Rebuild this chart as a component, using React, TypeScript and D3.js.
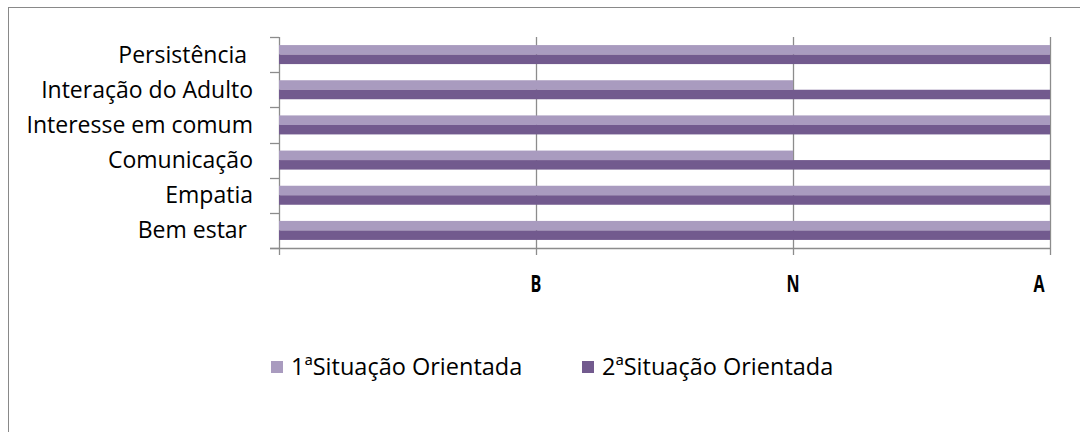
import React from "react";
import * as d3 from "d3";

const categories = [
  "Persistência ",
  "Interação do Adulto",
  "Interesse em comum",
  "Comunicação",
  "Empatia",
  "Bem estar ",
];
const series1Name = "1ªSituação Orientada";
const series2Name = "2ªSituação Orientada";
// 0 = none, 1 = B, 2 = N, 3 = A
const series1Values = [3, 2, 3, 2, 3, 3];
const series2Values = [3, 3, 3, 3, 3, 3];
const tickValues = [0, 1, 2, 3];
const tickLabels = ["", "B", "N", "A"];

const colors = ["#A99BBF", "#725A8E"];

export default function App() {
  const W = 1080;
  const H = 432;
  const left = 279;
  const right = 1050;
  const top = 37;
  const bottom = 248;

  const x = d3.scaleLinear().domain([0, 3]).range([left, right]);
  const y = d3.scaleBand<string>().domain(categories).range([top, bottom]).padding(0);
  const seriesKeys = ["s1", "s2"];
  const inner = d3
    .scaleBand<string>()
    .domain(seriesKeys)
    .range([0, y.bandwidth()])
    .paddingInner(0)
    .paddingOuter(0.85);

  const data = [series1Values, series2Values];
  const font = "'Open Sans', sans-serif";
  const grid = "#8C8C8C";

  return (
    <svg
      width={W}
      height={H}
      style={{ position: "absolute", left: 0, top: 0, display: "block" }}
    >
      <rect x={0} y={0} width={W} height={H} fill="#fff" />
      {/* outer chart border (extends beyond viewport) */}
      <rect x={8.5} y={7.5} width={W + 20} height={H + 20} fill="none" stroke="#898989" strokeWidth={1} />

      {/* gridlines */}
      {tickValues.map((t) => (
        <line
          key={"g" + t}
          x1={Math.round(x(t)) + 0.5}
          x2={Math.round(x(t)) + 0.5}
          y1={top}
          y2={bottom + 7}
          stroke={grid}
          strokeWidth={1.3}
        />
      ))}

      {/* bars */}
      {categories.map((c, i) =>
        data.map((vals, s) => (
          <rect
            key={c + s}
            x={x(0)}
            y={(y(c) as number) + (inner(seriesKeys[s]) as number)}
            width={x(vals[i]) - x(0)}
            height={inner.bandwidth()}
            fill={colors[s]}
          />
        ))
      )}

      {/* y axis ticks */}
      {[...categories.map((c) => y(c) as number), bottom].map((yy, i) => (
        <line
          key={"yt" + i}
          x1={left - 9}
          x2={left}
          y1={Math.round(yy) + 0.5}
          y2={Math.round(yy) + 0.5}
          stroke={grid}
          strokeWidth={1.3}
        />
      ))}
      {/* x axis line */}
      <line x1={left - 9} x2={right} y1={bottom + 0.5} y2={bottom + 0.5} stroke={grid} strokeWidth={1.3} />

      {/* category labels */}
      {categories.map((c) => (
        <text
          key={"l" + c}
          x={253}
          y={(y(c) as number) + y.bandwidth() / 2}
          dy="0.35em"
          textAnchor="end"
          fontFamily={font}
          fontSize={23}
          fill="#000"
          style={{ whiteSpace: "pre" }}
        >
          {c}
        </text>
      ))}

      {/* x tick labels */}
      {tickValues.map((t, i) => {
        const cx = i === tickValues.length - 1 ? x(t) - 11 : x(t);
        return (
          <text
            key={"xl" + t}
            transform={`translate(${cx},${284}) scale(0.7,1)`}
            dy="0.36em"
            textAnchor="middle"
            fontFamily={font}
            fontWeight="bold"
            fontSize={23}
            fill="#000"
          >
            {tickLabels[i]}
          </text>
        );
      })}

      {/* legend */}
      {[series1Name, series2Name].map((name, i) => {
        const lx = i === 0 ? 271 : 582;
        return (
          <g key={"lg" + i}>
            <rect x={lx} y={361} width={12} height={12} fill={colors[i]} />
            <text
              x={lx + 20}
              y={367}
              dy="0.35em"
              fontFamily={font}
              fontSize={23.5}
              fill="#000"
            >
              {name}
            </text>
          </g>
        );
      })}
    </svg>
  );
}
